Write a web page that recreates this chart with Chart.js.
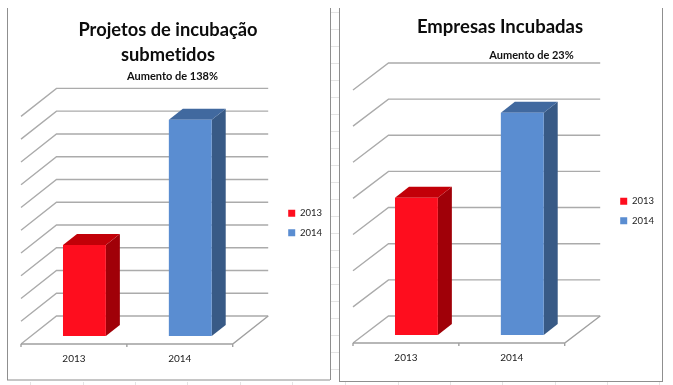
<!DOCTYPE html>
<html><head><meta charset="utf-8">
<script src="https://cdn.jsdelivr.net/npm/chart.js@4"></script>
<style>
html,body{margin:0;padding:0;background:#fff;width:673px;height:385px;overflow:hidden}
#stage{position:absolute;left:0;top:0;width:673px;height:385px}
.ln{position:absolute;background:#8f8f8f}
.cell{position:absolute;background:#e4e4e4}
canvas{position:absolute;top:0}
#c1{left:8px}
#c2{left:340px}
</style></head><body>
<div id="stage">
<canvas id="c1" width="322" height="385" style="width:322px;height:385px"></canvas>
<canvas id="c2" width="322" height="385" style="width:322px;height:385px"></canvas>
</div>
<script>
const seriesNames = ['2013', '2014'];
const titleLeft = ['Projetos de incubação', 'submetidos'];
const noteLeft = 'Aumento de 138%';
const titleRight = 'Empresas Incubadas';
const noteRight = 'Aumento de 23%';
const projetos = [8, 19];
const empresas = [7.6, 12.3];
const frontColors = ['#fe0d1e', '#5a8dd1'];
const topColors = ['#c20008', '#41699f'];
const sideColors = ['#a00008', '#385a86'];

// page furniture: frames and the spreadsheet cells showing behind the charts
const stage = document.getElementById('stage');
function box(cls, l, t, w, h, bg) {
  const d = document.createElement('div'); d.className = cls;
  d.style.cssText = `left:${l}px;top:${t}px;width:${w}px;height:${h}px;` + (bg ? `background:${bg}` : '');
  stage.insertBefore(d, stage.firstChild);
}
box('ln', 7, 8, 1, 372);
box('ln', 330, 8, 1, 372);
box('ln', 7, 379, 323, 2, '#c6c6c6');
box('ln', 339, 8, 1, 374);
box('ln', 662, 8, 1, 374);
box('ln', 339, 381, 324, 1);
[12, 29, 46, 63, 80, 97, 114, 131, 148, 165, 182, 199, 216, 233, 250, 267, 284, 301, 318, 335, 352, 369].forEach(y => box('cell', 331, y, 8, 1));
[30, 83, 135, 187, 240, 292, 345, 398, 450, 502, 555, 607, 659].forEach(x => box('cell', x, 382, 1, 3));

const wallPlugin = {
  id: 'wall3d',
  afterLayout(chart, args, o) {
    // nudge the legend and title away from their default slots
    const lg = chart.legend, tb = chart.titleBlock;
    lg.left += o.legendDx; lg.right += o.legendDx;
    lg.top += o.legendDy; lg.bottom += o.legendDy;
    if (lg.legendHitBoxes) lg.legendHitBoxes.forEach(h => { h.left += o.legendDx; h.top += o.legendDy; });
    tb.left += o.titleDx; tb.right += o.titleDx;
  },
  beforeDraw(chart) {
    chart.ctx.textRendering = 'optimizeSpeed';
  },
  beforeDatasetsDraw(chart, args, o) {
    const { ctx, chartArea: a, scales: { x, y } } = chart;
    const L = a.left - o.frontDx, R = a.right - o.frontDx;      // front floor edge
    const bx = a.left + o.backDx, bxr = a.right + o.backDx;     // back wall
    const front = y.getPixelForValue(0) + o.frontDy;
    ctx.save();
    ctx.strokeStyle = '#ababab'; ctx.lineWidth = 1.4;
    y.ticks.forEach(t => {
      const py = y.getPixelForValue(t.value) - o.backDy;
      ctx.beginPath();
      ctx.moveTo(L, py + o.backDy + o.frontDy);
      ctx.lineTo(bx, py);
      ctx.lineTo(bxr, py);
      ctx.stroke();
    });
    ctx.strokeStyle = '#a0a0a0';
    ctx.beginPath();
    ctx.moveTo(L, front); ctx.lineTo(R, front);
    ctx.lineTo(bxr, y.getPixelForValue(0) - o.backDy);
    ctx.moveTo(L, front); ctx.lineTo(L, front + 3);
    ctx.moveTo((L + R) / 2, front); ctx.lineTo((L + R) / 2, front + 3);
    ctx.moveTo(R, front); ctx.lineTo(R, front + 3);
    ctx.stroke();
    // depth faces of each bar, taken from the bar elements
    chart.data.datasets.forEach((ds, i) => {
      chart.getDatasetMeta(i).data.forEach((el, j) => {
        if (ds.data[j] == null) return;
        const l = el.x - el.width / 2, r = el.x + el.width / 2, dx = o.barDx, dy = o.barDy;
        ctx.fillStyle = sideColors[i];
        ctx.beginPath();
        ctx.moveTo(r, el.y); ctx.lineTo(r + dx, el.y - dy);
        ctx.lineTo(r + dx, el.base - dy); ctx.lineTo(r, el.base);
        ctx.closePath(); ctx.fill();
        ctx.fillStyle = topColors[i];
        ctx.beginPath();
        ctx.moveTo(l, el.y); ctx.lineTo(l + dx, el.y - dy);
        ctx.lineTo(r + dx, el.y - dy); ctx.lineTo(r, el.y);
        ctx.closePath(); ctx.fill();
      });
    });
    ctx.restore();
  }
};
const notePlugin = {
  id: 'note',
  afterDraw(chart, args, o) {
    const { ctx } = chart;
    ctx.save();
    ctx.font = 'bold 11px Lato';
    ctx.fillStyle = '#111';
    ctx.textAlign = 'center'; ctx.textBaseline = 'middle';
    ctx.fillText(o.text, o.cx, o.cy);
    ctx.restore();
  }
};

function build(id, title, values, maxV, step, cfg) {
  new Chart(document.getElementById(id), {
    type: 'bar',
    plugins: [wallPlugin, notePlugin],
    data: {
      labels: seriesNames,
      datasets: seriesNames.map((n, i) => ({
        label: n,
        data: values.map((v, j) => (j === i ? v : null)),
        backgroundColor: frontColors[i],
        borderWidth: 0,
        barPercentage: 0.405,
        categoryPercentage: 1
      }))
    },
    options: {
      responsive: false, animation: false,
      layout: { padding: { left: cfg.padL, right: cfg.padR, top: 0, bottom: 0 } },
      scales: {
        x: {
          stacked: true,
          grid: { display: false }, border: { display: false },
          ticks: { color: '#222', font: { family: 'Lato', size: 10 }, padding: cfg.tickPad, maxRotation: 0, labelOffset: -10.5 },
          afterFit(s) { s.height = cfg.axisH; }
        },
        y: {
          stacked: true, min: 0, max: maxV,
          grid: { display: false }, border: { display: false },
          ticks: { display: false, stepSize: step },
          afterFit(s) { s.width = 0; }
        }
      },
      plugins: {
        tooltip: { enabled: false },
        legend: {
          position: 'right',
          labels: { boxWidth: 7, boxHeight: 7, color: '#222', padding: 10, font: { family: 'Lato', size: 9.5 } }
        },
        title: {
          display: true, text: title, color: '#0c0c0c',
          font: { family: 'Lato', size: cfg.titleSize, weight: 'bold', lineHeight: 1.35 },
          padding: { top: cfg.titleTop, bottom: cfg.titleBottom }
        },
        note: { text: cfg.note, cx: cfg.noteX, cy: cfg.noteY },
        wall3d: { frontDx: 10.5, frontDy: 8, backDx: 25, backDy: cfg.backDy, barDx: 14, barDy: 11,
                  legendDx: cfg.legendDx, legendDy: cfg.legendDy, titleDx: cfg.titleDx }
      }
    }
  });
}

build('c1', titleLeft, projetos, 20, 2, {
  padL: 23.5, padR: 33, tickPad: 9, axisH: 49, titleSize: 18.3, titleTop: 18, titleBottom: 41,
  note: noteLeft, noteX: 164.5, noteY: 76, backDy: 20, legendDx: 35, legendDy: 30.5, titleDx: 3.75
});
build('c2', titleRight, empresas, 14, 2, {
  padL: 23.5, padR: 33, tickPad: 9, axisH: 50, titleSize: 18.5, titleTop: 15, titleBottom: 42,
  note: noteRight, noteX: 191.5, noteY: 55, backDy: 19, legendDx: 35, legendDy: 18.5, titleDx: 3.75
});
</script>
</body></html>
